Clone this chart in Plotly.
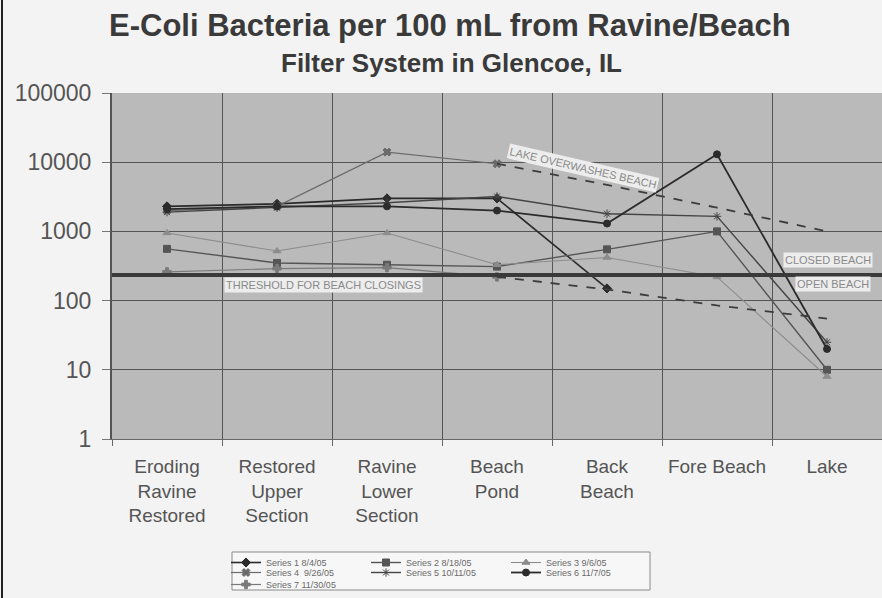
import plotly.graph_objects as go

# ---------------- data ----------------
CATEGORIES = ["Eroding<br>Ravine<br>Restored", "Restored<br>Upper<br>Section", "Ravine<br>Lower<br>Section",
              "Beach<br>Pond", "Back<br>Beach", "Fore Beach", "Lake"]

SERIES_NAMES = ["Series 1 8/4/05", "Series 2 8/18/05", "Series 3 9/6/05", "Series 4  9/26/05",
                "Series 5 10/11/05", "Series 6 11/7/05", "Series 7 11/30/05"]

S1 = [2300, 2500, 3000, 3000, 150, None, None]
S2 = [560, 350, 330, 310, 550, 1000, 10]
S3 = [950, 520, 950, 330, 420, 220, 8]
S4 = [2000, 2300, 14000, 9500, None, None, None]
S5 = [1900, 2200, 2600, 3200, 1800, 1650, 25]
S6 = [2100, 2300, 2300, 2000, 1300, 13000, 20]
S7 = [260, 290, 300, 220, None, None, None]

UPPER_DASH = [None, None, None, 9500, 4700, 2200, 1000]   # "lake overwashes beach"
LOWER_DASH = [None, None, None, 220, 145, 85, 55]

THRESHOLD = 235

Y_TICKS = [1, 10, 100, 1000, 10000, 100000]
Y_TICK_LABELS = ["1", "10", "100", "1000", "10000", "100000"]

TITLE_LINE1 = "E-Coli Bacteria per 100 mL from Ravine/Beach"
TITLE_LINE2 = "Filter System in Glencoe, IL"

# ---------------- styles ----------------
series = [S1, S2, S3, S4, S5, S6, S7]
colors = ["#2b2b2b", "#555555", "#8c8c8c", "#6a6a6a", "#444444", "#2b2b2b", "#7a7a7a"]
symbols = ["diamond", "square", "triangle-up", "x", "asterisk-open", "circle", "cross"]
widths = [1.6, 1.4, 1.1, 1.2, 1.4, 1.8, 1.2]
legend_ids = ["legend", "legend", "legend", "legend2", "legend2", "legend2", "legend3"]

fig = go.Figure()

for vals, name, c, sym, w, lg in zip(series, SERIES_NAMES, colors, symbols, widths, legend_ids):
    fig.add_trace(go.Scatter(
        x=CATEGORIES, y=vals, name=name, mode="lines+markers",
        line=dict(color=c, width=w),
        marker=dict(symbol=sym, size=7, color=c, line=dict(color=c, width=1)),
        legend=lg, connectgaps=False,
    ))

fig.add_trace(go.Scatter(x=CATEGORIES, y=UPPER_DASH, mode="lines", showlegend=False,
                         line=dict(color="#3c3c3c", width=1.8, dash="dash")))
fig.add_trace(go.Scatter(x=CATEGORIES, y=LOWER_DASH, mode="lines", showlegend=False,
                         line=dict(color="#3c3c3c", width=1.8, dash="dash")))

# plot geometry in px
L, T, B_PX = 112, 93, 439
W_PX = 882 - L
H_PX = B_PX - T
DEC = H_PX / 5.0


def px_x(px):
    return (px - L) / W_PX


def px_y(px):
    return (B_PX - px) / H_PX


def px_logy(px):
    return (B_PX - px) / DEC


shapes = [
    dict(type="line", xref="paper", yref="y", x0=0, x1=1,
         y0=THRESHOLD, y1=THRESHOLD,
         line=dict(color="#3a3a3a", width=4), layer="above"),
    # legend box
    dict(type="rect", xref="paper", yref="paper", x0=px_x(232), x1=px_x(650),
         y0=px_y(590), y1=px_y(552), fillcolor="#f7f7f7",
         line=dict(color="#8a8a8a", width=1), layer="below"),
    # left frame line of the scanned page
    dict(type="line", xref="paper", yref="paper", x0=px_x(2), x1=px_x(2),
         y0=px_y(598), y1=px_y(0), line=dict(color="#222222", width=2)),
]

lab_font = dict(family="Liberation Sans, Arial", size=11, color="#8a8a8a")
lab_common = dict(xref="paper", yref="y", xanchor="center", yanchor="middle",
                  showarrow=False, font=lab_font, bgcolor="#ededed", borderpad=1)
title_common = dict(xref="paper", yref="paper", xanchor="center", yanchor="middle",
                    showarrow=False)
annotations = [
    dict(text="THRESHOLD FOR BEACH CLOSINGS", x=px_x(323), y=px_logy(285), **lab_common),
    dict(text="CLOSED BEACH", x=px_x(828), y=px_logy(260), **lab_common),
    dict(text="OPEN BEACH", x=px_x(833), y=px_logy(284), **lab_common),
    dict(text="LAKE OVERWASHES BEACH", x=px_x(583), y=px_logy(168), textangle=13, **lab_common),
    # title
    dict(text="<b>" + TITLE_LINE1 + "</b>", x=px_x(450), y=px_y(25),
         font=dict(family="Liberation Sans, Arial", size=31, color="#3a3a3a"), **title_common),
    dict(text="<b>" + TITLE_LINE2 + "</b>", x=px_x(451), y=px_y(63),
         font=dict(family="Liberation Sans, Arial", size=26, color="#3a3a3a"), **title_common),
]

leg_common = dict(orientation="h", xanchor="left", yanchor="top",
                  bgcolor="rgba(0,0,0,0)", borderwidth=0,
                  font=dict(family="Liberation Sans, Arial", size=9, color="#6a6a6a"),
                  itemwidth=30, entrywidth=95, tracegroupgap=0)

fig.update_layout(
    width=882, height=598,
    margin=dict(l=L, r=0, t=T, b=598 - B_PX, autoexpand=False),
    paper_bgcolor="#f3f3f3",
    plot_bgcolor="#bababa",
    xaxis=dict(type="category", categoryorder="array", categoryarray=CATEGORIES,
               range=[-0.5, 6.5], tickson="boundaries", showgrid=True,
               gridcolor="#555555", gridwidth=1, ticks="outside", ticklen=6, tickcolor="#666666",
               showline=True, linecolor="#666666", linewidth=1, ticklabelstandoff=10,
               tickangle=0,
               tickfont=dict(family="Liberation Sans, Arial", size=19, color="#555555")),
    yaxis=dict(type="log", range=[0, 5], tickvals=Y_TICKS, ticktext=Y_TICK_LABELS,
               showgrid=True, gridcolor="#555555", gridwidth=1,
               ticks="outside", ticklen=8, tickcolor="#777777",
               showline=True, linecolor="#555555", linewidth=2, ticklabelstandoff=6,
               tickfont=dict(family="Liberation Sans, Arial", size=23, color="#555555")),
    legend=dict(x=px_x(226), y=px_y(548), **leg_common),
    legend2=dict(x=px_x(226), y=px_y(558), **leg_common),
    legend3=dict(x=px_x(226), y=px_y(570), **leg_common),
    shapes=shapes,
    annotations=annotations,
    showlegend=True,
)

fig.write_html("out.html", config={"displayModeBar": False},
               post_script="document.body.style.margin='0';document.body.style.overflow='hidden';")
